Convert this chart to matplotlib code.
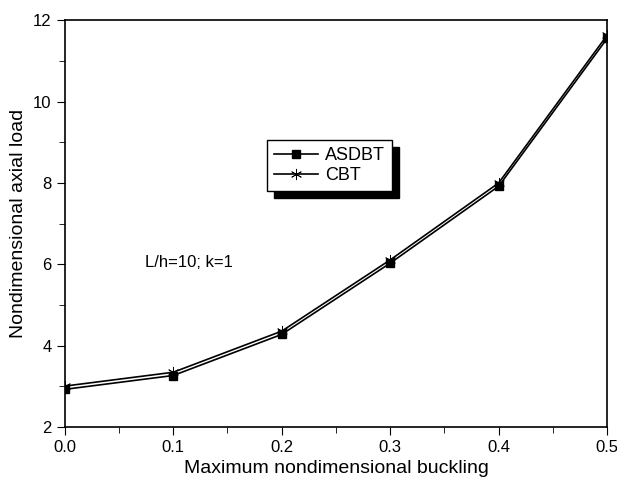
import matplotlib.pyplot as plt
import numpy as np
from matplotlib.ticker import MultipleLocator

plt.rcParams['font.family'] = ['Liberation Sans', 'DejaVu Sans']

buckling = [0.0, 0.1, 0.2, 0.3, 0.4, 0.5]
asdbt = [2.93, 3.27, 4.28, 6.03, 7.92, 11.55]
cbt = [3.01, 3.35, 4.36, 6.11, 8.0, 11.63]

fig = plt.figure(figsize=(6.17, 4.8), dpi=100)
ax = fig.add_axes([0.105, 0.110, 0.879, 0.848])

ax.plot(buckling, asdbt, color='black', lw=1.2, marker='s', ms=6, label='ASDBT')
ax.plot(buckling, cbt, color='black', lw=1.2, marker=(6, 2, 0), ms=8, mew=0.6,
        label='CBT')

ax.set_xlim(0.0, 0.5)
ax.set_ylim(2, 12)
ax.xaxis.set_major_locator(MultipleLocator(0.1))
ax.xaxis.set_minor_locator(MultipleLocator(0.05))
ax.yaxis.set_major_locator(MultipleLocator(2))
ax.yaxis.set_minor_locator(MultipleLocator(1))
ax.tick_params(which='both', direction='out', top=False, right=False, labelsize=12)
ax.tick_params(which='major', length=6)
ax.tick_params(which='minor', length=4)
for s in ax.spines.values():
    s.set_linewidth(1.2)

ax.set_xlabel('Maximum nondimensional buckling', fontsize=14, labelpad=3)
ax.set_ylabel('Nondimensional axial load', fontsize=14, labelpad=4)

ax.text(0.074, 6.05, 'L/h=10; k=1', fontsize=12, va='center')

leg = ax.legend(loc='upper left', bbox_to_anchor=(0.373, 0.705), fancybox=False,
                edgecolor='black', framealpha=1, fontsize=13, handlelength=2.4,
                borderpad=0.4, labelspacing=0.15, handletextpad=0.4,
                borderaxespad=0,
                shadow={'color': 'black', 'alpha': 1, 'ox': 5, 'oy': -5})
leg.get_frame().set_linewidth(1.0)

fig.savefig('out.png', dpi=100)
